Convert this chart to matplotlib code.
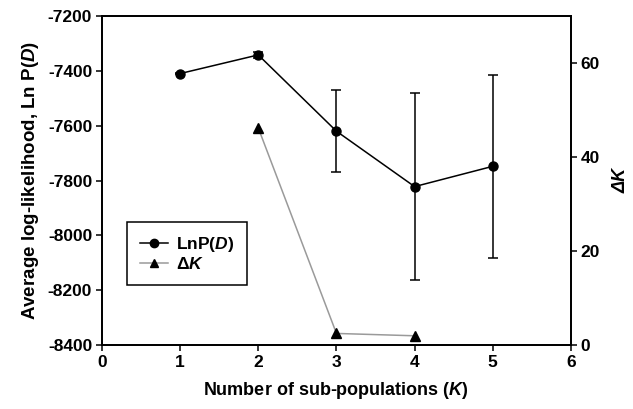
import matplotlib
matplotlib.use("Agg")
import matplotlib.pyplot as plt
from matplotlib.lines import Line2D

plt.rcParams['font.family'] = ['Liberation Sans', 'DejaVu Sans']
plt.rcParams['font.weight'] = 'bold'
plt.rcParams['axes.unicode_minus'] = False
plt.rcParams['mathtext.fontset'] = 'custom'
plt.rcParams['mathtext.it'] = 'Liberation Sans:italic:bold'
plt.rcParams['mathtext.rm'] = 'Liberation Sans:bold'
plt.rcParams['mathtext.bf'] = 'Liberation Sans:bold'

# Data
k_lnp = [1, 2, 3, 4, 5]
lnp_mean = [-7410, -7342, -7620, -7822, -7748]
lnp_err = [3, 10, 150, 340, 334]
k_dk = [2, 3, 4]
delta_k = [46.2, 2.5, 2.0]

x_ticks = [0, 1, 2, 3, 4, 5, 6]
left_ticks = [-8400, -8200, -8000, -7800, -7600, -7400, -7200]
right_ticks = [0, 20, 40, 60]

fig = plt.figure(figsize=(6.33, 4.09), dpi=100)
ax = fig.add_axes([0.161, 0.156, 0.741, 0.805])
ax2 = ax.twinx()

ax.errorbar(k_lnp, lnp_mean, yerr=lnp_err, color='black', lw=1.1,
            marker='o', ms=6.5, capsize=3.5, elinewidth=1.1, capthick=1.1,
            zorder=3)
ax2.plot(k_dk, delta_k, color='#9a9a9a', lw=1.1, marker='^', ms=6.5,
         mfc='black', mec='black', zorder=3)

ax.set_xlim(0, 6)
ax.set_ylim(-8400, -7200)
ax2.set_ylim(0, 70)
ax.set_xticks(x_ticks)
ax.set_yticks(left_ticks)
ax2.set_yticks(right_ticks)

for a in (ax, ax2):
    for s in a.spines.values():
        s.set_linewidth(1.3)
    a.tick_params(direction='out', length=4, width=1.1, labelsize=12.5, pad=3)

ax.set_xlabel(r'Number of sub-populations ($K$)', fontsize=13, fontweight='bold', labelpad=7)
ax.set_ylabel(r'Average log-likelihood, Ln P($D$)', fontsize=13.5, fontweight='bold', labelpad=5)
ax2.set_ylabel('ΔK', fontsize=13, fontweight='bold', style='italic', labelpad=9)

h1 = Line2D([], [], color='black', lw=1.1, marker='o', ms=6)
h2 = Line2D([], [], color='#9a9a9a', lw=1.1, marker='^', ms=6, mfc='black', mec='black')
leg = ax2.legend([h1, h2], [r'LnP($D$)', r'$\mathit{\Delta K}$'],
                 loc='lower left', bbox_to_anchor=(0.035, 0.155),
                 fontsize=12.5, frameon=True, fancybox=False, framealpha=1,
                 edgecolor='black', handlelength=1.6, handletextpad=0.45,
                 labelspacing=0.15, borderpad=0.75)
leg.get_frame().set_linewidth(1.1)

fig.savefig('out.png', dpi=100)
